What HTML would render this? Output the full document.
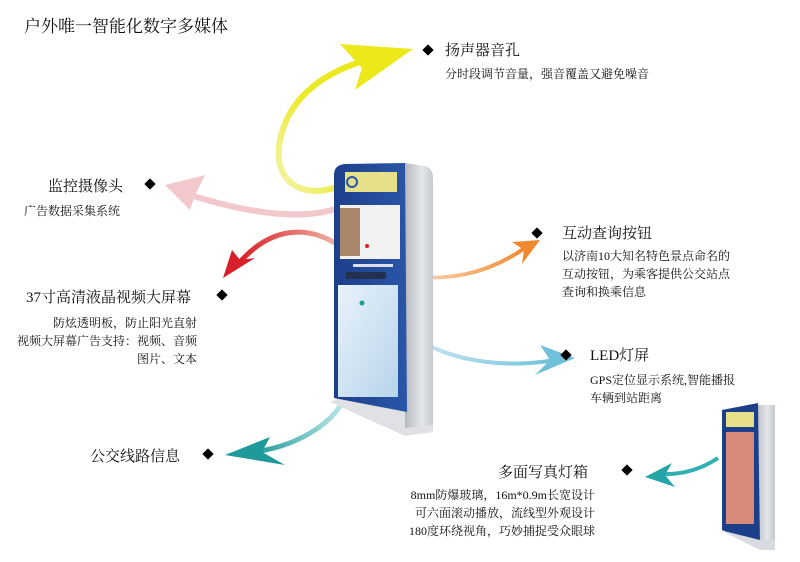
<!DOCTYPE html>
<html><head><meta charset="utf-8"><style>
html,body{margin:0;padding:0;background:#fff;}
body{width:800px;height:562px;overflow:hidden;position:relative;font-family:"Liberation Serif","Noto Serif CJK SC",serif;color:#111;}
.t{position:absolute;white-space:nowrap;}
.h{font-size:15px;}
.s{font-size:12px;line-height:18px;}
.d{position:absolute;width:8px;height:8px;background:#000;transform:rotate(45deg);}
</style></head><body>
<svg width="800" height="562" style="position:absolute;left:0;top:0">
<defs>
<linearGradient id="yg" x1="0" y1="1" x2="1" y2="0"><stop offset="0" stop-color="#f4f4b0"/><stop offset="0.5" stop-color="#ecea2a"/><stop offset="1" stop-color="#ece81a"/></linearGradient>
<linearGradient id="og" x1="0" x2="1"><stop offset="0" stop-color="#fbe3d0"/><stop offset="1" stop-color="#f08a30"/></linearGradient>
<linearGradient id="bg" x1="0" x2="1"><stop offset="0" stop-color="#d8eef5"/><stop offset="1" stop-color="#6fc1da"/></linearGradient>
<linearGradient id="tg" x1="1" x2="0"><stop offset="0" stop-color="#c8ecec"/><stop offset="1" stop-color="#1e9a9a"/></linearGradient>
<linearGradient id="rg" x1="1" x2="0"><stop offset="0" stop-color="#f0b0a0"/><stop offset="1" stop-color="#d8202a"/></linearGradient>
<linearGradient id="kb" x1="0" x2="1"><stop offset="0" stop-color="#1c3f8a"/><stop offset="1" stop-color="#2a56a8"/></linearGradient>
<linearGradient id="ks" x1="0" x2="1"><stop offset="0" stop-color="#b5b8be"/><stop offset="0.6" stop-color="#e4e6ea"/><stop offset="1" stop-color="#c5c8cc"/></linearGradient>
<linearGradient id="lp" x1="0" y1="0" x2="1" y2="1"><stop offset="0" stop-color="#e8f3fb"/><stop offset="1" stop-color="#b8d4ea"/></linearGradient>
</defs>
<path d="M337,187 C300,200 272,180 280,140 C288,100 320,75 360,62" stroke="url(#yg)" stroke-width="6" fill="none"/>
<path d="M340,44 L413,49 L355,90 L362,68 Z" fill="#ece81a"/>
<path d="M372,185 C340,225 270,220 190,195" stroke="#f3c8cc" stroke-width="6" fill="none"/>
<path d="M165,185 L205,175 L195,195 L190,210 Z" fill="#f3c8cc"/>
<path d="M335,243 C305,225 270,228 240,262" stroke="url(#rg)" stroke-width="5" fill="none"/>
<path d="M223,278 L232,250 L240,260 L255,258 Z" fill="#d8202a"/>
<path d="M400,275 C460,285 500,265 525,248" stroke="url(#og)" stroke-width="4" fill="none"/>
<path d="M540,240 L512,242 L524,250 L522,264 Z" fill="#f08a30"/>
<path d="M395,320 C430,360 500,370 555,360" stroke="url(#bg)" stroke-width="4" fill="none"/>
<path d="M575,358 L540,345 L550,360 L535,375 Z" fill="#6fc1da"/>
<path d="M350,380 C345,420 300,445 255,452" stroke="url(#tg)" stroke-width="5" fill="none"/>
<path d="M225,455 L270,437 L262,452 L285,465 Z" fill="#1e9a9a"/>
<path d="M718,458 C700,470 680,475 660,474" stroke="#30b0b4" stroke-width="4" fill="none"/>
<path d="M645,477 L672,463 L665,475 L675,487 Z" fill="#25a5a8"/>
<!-- main kiosk -->
<path d="M330,402 L345,395 L425,398 L433,410 L433,432 L405,436 Z" fill="#dfe1e5"/>
<path d="M405,163 L425,166 Q433,168 433,178 L433,425 L405,428 Z" fill="url(#ks)"/>
<path d="M334,175 Q334,165 345,164 L405,163 L407,412 L334,398 Z" fill="url(#kb)"/>
<rect x="345" y="172" width="52" height="20" fill="#e6e08a"/>
<circle cx="352" cy="182" r="5" fill="none" stroke="#2a56a8" stroke-width="2"/>
<rect x="340" y="205" width="60" height="54" fill="#f2f2f2"/>
<rect x="340" y="208" width="20" height="48" fill="#8a5a30" opacity="0.7"/>
<circle cx="367" cy="246" r="2" fill="#e02020"/>
<rect x="353" y="264" width="40" height="3" fill="#dde"/>
<rect x="346" y="272" width="40" height="7" fill="#243050"/>
<rect x="338" y="285" width="60" height="112" fill="url(#lp)"/>
<circle cx="362" cy="303" r="2.5" fill="#18a090"/>
<!-- right small kiosk -->
<rect x="755" y="405" width="20" height="140" fill="url(#ks)"/>
<path d="M722,410 L758,403 L760,545 L722,530 Z" fill="#1c3f8a"/>
<rect x="726" y="412" width="28" height="15" fill="#e6e08a"/>
<rect x="726" y="432" width="28" height="92" fill="#d88a7a"/>
<path d="M720,530 L760,540 L775,540 L775,550 L760,550 Z" fill="#d8dbe0"/>
</svg>
<div class="t" style="left:24px;top:12px;font-size:17px">户外唯一智能化数字多媒体</div>
<div class="d" style="left:424px;top:46px"></div>
<div class="t h" style="left:445px;top:39px">扬声器音孔</div>
<div class="t s" style="left:445px;top:65px">分时段调节音量，强音覆盖又避免噪音</div>
<div class="t h" style="left:48px;top:175px">监控摄像头</div>
<div class="d" style="left:146px;top:180px"></div>
<div class="t s" style="left:24px;top:202px">广告数据采集系统</div>
<div class="d" style="left:533px;top:229px"></div>
<div class="t h" style="left:562px;top:222px">互动查询按钮</div>
<div class="t s" style="left:562px;top:247px">以济南10大知名特色景点命名的<br>互动按钮，为乘客提供公交站点<br>查询和换乘信息</div>
<div class="t h" style="left:26px;top:286px">37寸高清液晶视频大屏幕</div>
<div class="d" style="left:218px;top:291px"></div>
<div class="t s" style="left:0;width:197px;text-align:right;top:314px">防炫透明板，防止阳光直射<br>视频大屏幕广告支持：视频、音频<br>图片、文本</div>
<div class="d" style="left:562px;top:351px"></div>
<div class="t h" style="left:590px;top:344px">LED灯屏</div>
<div class="t s" style="left:590px;top:371px">GPS定位显示系统,智能播报<br>车辆到站距离</div>
<div class="t h" style="left:90px;top:445px">公交线路信息</div>
<div class="d" style="left:204px;top:450px"></div>
<div class="t h" style="left:498px;top:461px">多面写真灯箱</div>
<div class="d" style="left:623px;top:466px"></div>
<div class="t s" style="left:380px;width:215px;text-align:right;top:486px">8mm防爆玻璃，16m*0.9m长宽设计<br>可六面滚动播放，流线型外观设计<br>180度环绕视角，巧妙捕捉受众眼球</div>
</body></html>
